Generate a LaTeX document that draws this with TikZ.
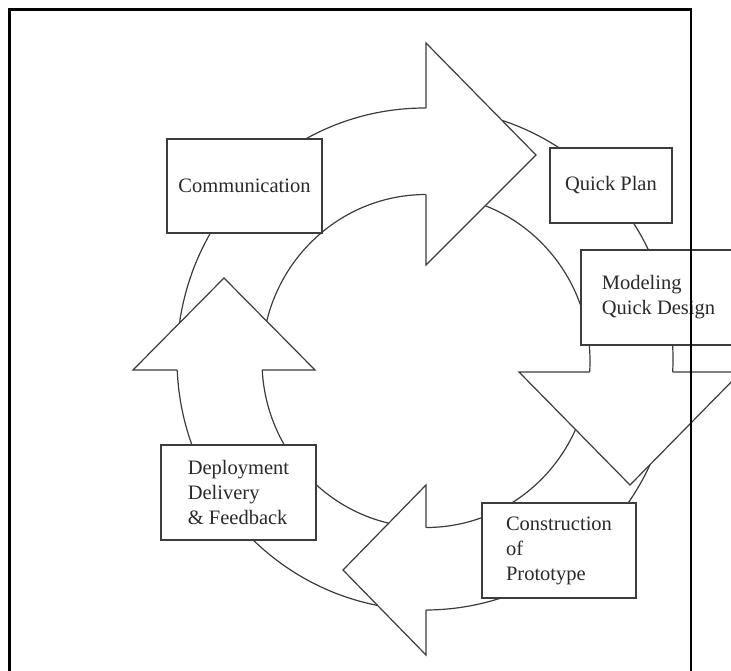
\documentclass[tikz,border=0pt]{standalone}
\usepackage{fontspec}
\setmainfont{Liberation Serif}
\usepackage{tikz}
\definecolor{linegray}{HTML}{3C3C3C}
\definecolor{textdark}{HTML}{2A2A2A}

\begin{document}
\begin{tikzpicture}[x=1pt,y=-1pt,
    stage/.style={draw=linegray,fill=white,line width=1.2pt,align=left,inner sep=0pt,
                  text=textdark,font=\fontsize{20.5}{25}\selectfont},
    ring/.style={draw=linegray,line width=1.2pt},
    head/.style={draw=linegray,line width=1.2pt,line join=miter}]
  \useasboundingbox (0,0) rectangle (731,670);
  \clip (0,0) rectangle (731,670);
  \draw[ring] (425,359) ellipse [x radius=248,y radius=251];
  \draw[ring] (426,361) ellipse [x radius=164,y radius=166.5];
  % arrow heads on the ring
  \fill[white] (426,43) -- (536,155) -- (426,265) -- cycle;
  \draw[head] (426,108) -- (426,43) -- (536,155) -- (426,265) -- (426,194.5);
  \fill[white] (519,372) -- (630,485) -- (741,372) -- cycle;
  \draw[head] (589.6,372) -- (519,372) -- (630,485) -- (741,372) -- (672.7,372);
  \fill[white] (426,485) -- (343,570) -- (426,655) -- cycle;
  \draw[head] (426,527.5) -- (426,485) -- (343,570) -- (426,655) -- (426,610);
  \fill[white] (133,370) -- (224,278) -- (315,370) -- cycle;
  \draw[head] (177.2,370) -- (133,370) -- (224,278) -- (315,370) -- (262.2,370);
  % stages
  \node[stage,minimum width=155pt,minimum height=94pt] (comm) at (244.5,186) {Communication};
  \node[stage,minimum width=122pt,minimum height=75pt] (plan) at (611,185.5) {Quick Plan};
  \node[stage,minimum width=155pt,minimum height=95pt] (model) at (658.5,297.5) {Modeling\\Quick Design};
  \node[stage,minimum width=154pt,minimum height=95pt] (constr) at (559,550.5) {Construction\\of\\Prototype};
  \node[stage,minimum width=155pt,minimum height=95pt] (deploy) at (238.5,492.5) {Deployment\\Delivery\\\& Feedback};
  \draw[black,line width=2.8pt] (9.5,9.5) rectangle (691,720);
\end{tikzpicture}
\end{document}
